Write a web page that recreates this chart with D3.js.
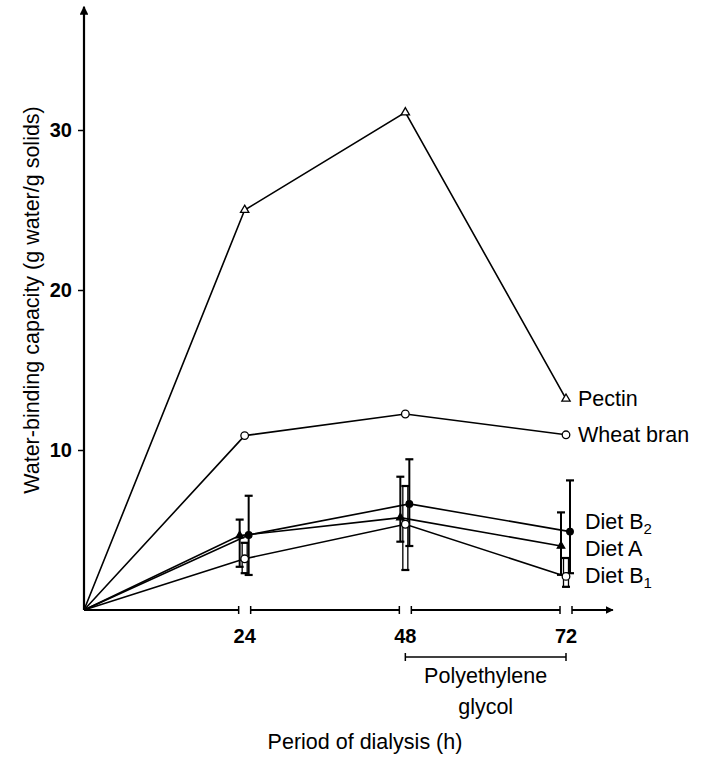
<!DOCTYPE html>
<html>
<head>
<meta charset="utf-8">
<script src="https://cdn.jsdelivr.net/npm/d3@7"></script>
<style>
  body { margin: 0; background: #fff; }
  text { font-family: "Liberation Sans", Arial, sans-serif; fill: #000; }
</style>
</head>
<body>
<div id="chart"></div>
<script>
// hours of dialysis
const hours = [0, 24, 48, 72];
const yTicks = [10, 20, 30];

// water-binding capacity, g water / g solids
const pectin    = [0, 25.0, 31.1, 13.2];
const wheatBran = [0, 10.9, 12.25, 10.95];
const dietA     = [0, 4.65, 5.77, 4.0];
const dietB1    = [0, 3.2, 5.36, 2.1];
const dietB2    = [0, 4.69, 6.63, 4.9];

// error bar ends (null at time zero)
const dietAHi  = [null, 5.65, 8.33, 6.1];
const dietALo  = [null, 2.7, 4.27, 2.2];
const dietB1Hi = [null, 4.2, 7.75, 3.25];
const dietB1Lo = [null, 2.3, 2.5, 1.45];
const dietB2Hi = [null, 7.14, 9.42, 8.1];
const dietB2Lo = [null, 2.19, 4.0, 2.3];

const svgWidth = 701, svgHeight = 757;
const labelSize = "21.5px";

const svg = d3.select("#chart").append("svg")
    .attr("width", svgWidth)
    .attr("height", svgHeight);

const x = d3.scaleLinear().domain([0, 72]).range([84, 566]);
const y = d3.scaleLinear().domain([0, 30]).range([610, 130]);

const line = d3.line().x(d => x(d[0]) + d[2]).y(d => y(d[1]));

// arrow head used by both axes
svg.append("defs").append("marker")
    .attr("id", "arrow")
    .attr("viewBox", "0 0 10 10")
    .attr("refX", 9).attr("refY", 5)
    .attr("markerWidth", 4).attr("markerHeight", 4)
    .attr("orient", "auto")
  .append("path")
    .attr("d", "M0,0 L10,5 L0,10 z")
    .attr("fill", "#000");

// y axis
svg.append("line")
    .attr("x1", x(0)).attr("y1", y(0))
    .attr("x2", x(0)).attr("y2", y(37.7))
    .attr("stroke", "#000").attr("stroke-width", 2.2)
    .attr("marker-end", "url(#arrow)");

const yAxis = svg.append("g")
    .attr("transform", `translate(${x(0)},0)`)
    .call(d3.axisLeft(y).tickValues(yTicks).tickSize(6).tickPadding(6));
yAxis.select(".domain").remove();
yAxis.selectAll("line").attr("stroke", "#000").attr("stroke-width", 1.5);
yAxis.selectAll("text")
    .style("font-family", "'Liberation Sans', Arial, sans-serif")
    .style("font-size", "20px").style("font-weight", "bold");

// broken x axis, one piece per 24 h
const gap = 6;
const segs = [[0, 24], [24, 48], [48, 72], [72, 79]];
segs.forEach(function(s, i) {
    const g = svg.append("g");
    const x1 = i === 0 ? x(s[0]) : x(s[0]) + gap;
    const x2 = i === segs.length - 1 ? x(s[1]) : x(s[1]) - gap;
    g.append("line")
        .attr("x1", x1).attr("x2", x2)
        .attr("y1", y(0)).attr("y2", y(0))
        .attr("stroke", "#000").attr("stroke-width", 2)
        .attr("marker-end", i === segs.length - 1 ? "url(#arrow)" : null);
    if (i > 0) g.append("line").attr("x1", x1).attr("x2", x1)
        .attr("y1", y(0) - 4).attr("y2", y(0) + 4).attr("stroke", "#000").attr("stroke-width", 1.5);
    if (i < segs.length - 1) g.append("line").attr("x1", x2).attr("x2", x2)
        .attr("y1", y(0) - 4).attr("y2", y(0) + 4).attr("stroke", "#000").attr("stroke-width", 1.5);
});

svg.selectAll(".xlab")
    .data(hours.slice(1))
    .enter().append("text")
    .attr("x", d => x(d))
    .attr("y", y(0) + 33)
    .attr("text-anchor", "middle")
    .style("font-size", "20px").style("font-weight", "bold")
    .text(d => d);

// polyethylene glycol bracket
const br = svg.append("g");
br.append("line").attr("x1", x(48)).attr("x2", x(72))
    .attr("y1", 657).attr("y2", 657).attr("stroke", "#000").attr("stroke-width", 1.5);
[48, 72].forEach(h => br.append("line").attr("x1", x(h)).attr("x2", x(h))
    .attr("y1", 653).attr("y2", 661).attr("stroke", "#000").attr("stroke-width", 1.5));
br.append("text").attr("x", (x(48) + x(72)) / 2).attr("y", 683)
    .attr("text-anchor", "middle").style("font-size", labelSize).text("Polyethylene");
br.append("text").attr("x", (x(48) + x(72)) / 2).attr("y", 714)
    .attr("text-anchor", "middle").style("font-size", labelSize).text("glycol");

// axis titles
svg.append("text")
    .attr("x", 365).attr("y", 749)
    .attr("text-anchor", "middle").style("font-size", labelSize)
    .text("Period of dialysis (h)");

svg.append("text")
    .attr("transform", "translate(39, 300) rotate(-90)")
    .attr("text-anchor", "middle").style("font-size", labelSize)
    .text("Water-binding capacity (g water/g solids)");

// series
const series = [
    {name: "Pectin", v: pectin, dx: 0, mark: "triangle"},
    {name: "Wheat bran", v: wheatBran, dx: 0, mark: "circleOpen"},
    {name: "Diet B2", v: dietB2, hi: dietB2Hi, lo: dietB2Lo, dx: 4, mark: "circle"},
    {name: "Diet A", v: dietA, hi: dietAHi, lo: dietALo, dx: -5, mark: "triFill"},
    {name: "Diet B1", v: dietB1, hi: dietB1Hi, lo: dietB1Lo, dx: 0, mark: "circleOpen", hollow: true}
];

series.forEach(function(s) {
    const pts = hours.map((h, i) => [h, s.v[i], i === 0 ? 0 : s.dx]);
    svg.append("path")
        .attr("d", line(pts))
        .attr("fill", "none").attr("stroke", "#000").attr("stroke-width", 1.6);

    if (s.hi) {
        hours.forEach(function(h, i) {
            if (s.hi[i] == null) return;
            const cx = x(h) + s.dx;
            if (s.hollow) {
                svg.append("rect")
                    .attr("x", cx - 2.5).attr("width", 5)
                    .attr("y", y(s.hi[i])).attr("height", y(s.lo[i]) - y(s.hi[i]))
                    .attr("fill", "none").attr("stroke", "#000").attr("stroke-width", 1.3);
            } else {
                svg.append("line").attr("x1", cx).attr("x2", cx)
                    .attr("y1", y(s.hi[i])).attr("y2", y(s.lo[i]))
                    .attr("stroke", "#000").attr("stroke-width", 2);
            }
            [s.hi[i], s.lo[i]].forEach(v => svg.append("line")
                .attr("x1", cx - 4).attr("x2", cx + 4)
                .attr("y1", y(v)).attr("y2", y(v))
                .attr("stroke", "#000").attr("stroke-width", 2.2));
        });
    }

    pts.slice(1).forEach(function(p) {
        const cx = x(p[0]) + p[2], cy = y(p[1]);
        if (s.mark === "triangle" || s.mark === "triFill") {
            svg.append("path")
                .attr("d", d3.symbol(d3.symbolTriangle, s.mark === "triangle" ? 30 : 24)())
                .attr("transform", `translate(${cx},${cy})`)
                .attr("fill", s.mark === "triangle" ? "#fff" : "#000")
                .attr("stroke", "#000").attr("stroke-width", 1.3);
        } else {
            svg.append("circle")
                .attr("cx", cx).attr("cy", cy).attr("r", s.mark === "circle" ? 3.3 : 3.8)
                .attr("fill", s.mark === "circle" ? "#000" : "#fff")
                .attr("stroke", "#000").attr("stroke-width", 1.3);
        }
    });
});

// series labels at the 72 h end
const labelX = x(72) + 12;
const labels = [
    {t: "Pectin", v: pectin[3], sub: null},
    {t: "Wheat bran", v: wheatBran[3], sub: null},
    {t: "Diet B", v: 5.5, sub: "2"},
    {t: "Diet A", v: 3.8, sub: null},
    {t: "Diet B", v: 2.15, sub: "1"}
];
labels.forEach(function(l) {
    const t = svg.append("text")
        .attr("x", labelX + (l.t.startsWith("Diet") ? 7 : 0))
        .attr("y", y(l.v) + 7)
        .style("font-size", labelSize)
        .text(l.t);
    if (l.sub) t.append("tspan").attr("dy", 5).style("font-size", "15px").text(l.sub);
});
</script>
</body>
</html>
